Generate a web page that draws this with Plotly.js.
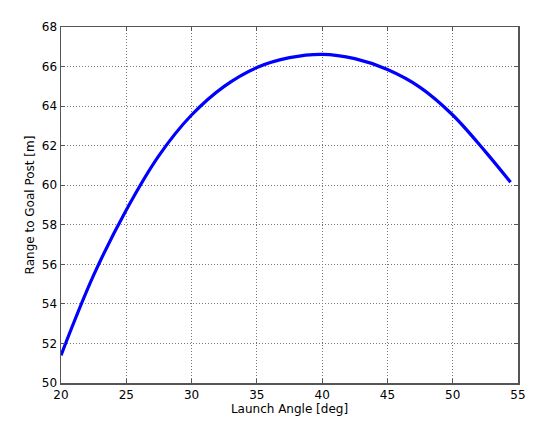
<!DOCTYPE html>
<html>
<head>
<meta charset="utf-8">
<script src="https://cdn.plot.ly/plotly-3.0.1.min.js"></script>
<style>
  body { margin: 0; background: #fff; }
  #chart { width: 550px; height: 421px; }
</style>
</head>
<body>
<div id="chart"></div>
<script>
// values
var launchAngle = [20, 22.5, 25, 27.5, 30, 32.5, 35, 37.5, 40, 42.5, 45, 47.5, 50, 52.5, 54.43];
var goalRange   = [51.4, 55.45, 58.75, 61.5, 63.55, 65.0, 65.95, 66.45, 66.62, 66.4, 65.85, 64.95, 63.55, 61.7, 60.15];

var xTicks = [20, 25, 30, 35, 40, 45, 50, 55];
var yTicks = [50, 52, 54, 56, 58, 60, 62, 64, 66, 68];

var axisCommon = {
  showline: true,
  linecolor: '#555',
  linewidth: 1.5,
  mirror: 'ticks',
  ticks: 'inside',
  ticklen: 4,
  tickcolor: '#555',
  showgrid: true,
  gridcolor: '#777',
  griddash: '1px,2px',
  gridwidth: 1,
  zeroline: false,
  tickfont: { family: 'DejaVu Sans', size: 12, color: '#000' }
};

var trace = {
  x: launchAngle,
  y: goalRange,
  type: 'scatter',
  mode: 'lines',
  line: { color: '#0000ff', width: 3.2, shape: 'spline', smoothing: 1 },
  hoverinfo: 'none'
};

var layout = {
  width: 550,
  height: 421,
  margin: { l: 61, r: 32, t: 27, b: 38 },
  paper_bgcolor: '#fff',
  plot_bgcolor: '#fff',
  showlegend: false,
  xaxis: Object.assign({}, axisCommon, {
    range: [20, 55],
    tickvals: xTicks,
    ticktext: xTicks.map(String),
    title: { text: 'Launch Angle [deg]', font: { family: 'DejaVu Sans', size: 12, color: '#000' }, standoff: 0 }
  }),
  yaxis: Object.assign({}, axisCommon, {
    range: [50, 68],
    tickvals: yTicks,
    ticktext: yTicks.map(String),
    title: { text: 'Range to Goal Post [m]', font: { family: 'DejaVu Sans', size: 12, color: '#000' }, standoff: 4 }
  })
};

Plotly.newPlot('chart', [trace], layout, { staticPlot: true, displayModeBar: false });
</script>
</body>
</html>
